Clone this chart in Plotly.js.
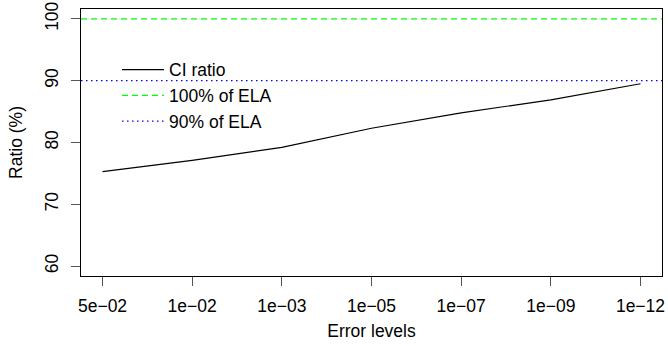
<!DOCTYPE html>
<html>
<head>
<meta charset="utf-8">
<script src="https://cdn.plot.ly/plotly-3.0.1.min.js"></script>
<style>html,body{margin:0;padding:0;background:#fff;} #chart{width:668px;height:346px;}</style>
</head>
<body>
<div id="chart"></div>
<script>
// Data
const errorLabels = ['5e\u221202', '1e\u221202', '1e\u221203', '1e\u221205', '1e\u221207', '1e\u221209', '1e\u221212'];
const positions = [1, 2, 3, 4, 5, 6, 7];
const ciRatio = [75.3, 77.1, 79.2, 82.3, 84.8, 86.9, 89.5];
const refNames = ['100% of ELA', '90% of ELA'];
const refLevels = [100, 90];
const yTicks = [60, 70, 80, 90, 100];

// R-style 4% axis extension
const xPad = (positions[positions.length - 1] - positions[0]) * 0.04;
const xRange = [positions[0] - xPad, positions[positions.length - 1] + xPad];
const yRange = [58.4, 101.6];

const FS = 17.5;
const font = {family: 'Liberation Sans, Arial, sans-serif', size: FS, color: '#000'};

const traces = [
  {x: positions, y: ciRatio, name: 'CI ratio', mode: 'lines', type: 'scatter',
   line: {color: '#000000', width: 1.2}},
  {x: xRange, y: [refLevels[0], refLevels[0]], name: refNames[0], mode: 'lines', type: 'scatter',
   line: {color: '#00ff00', width: 1.2, dash: '6px,4px'}},
  {x: xRange, y: [refLevels[1], refLevels[1]], name: refNames[1], mode: 'lines', type: 'scatter',
   line: {color: '#0000ff', width: 1.2, dash: '1.5px,3.5px'}}
];

const layout = {
  width: 668, height: 346,
  margin: {l: 81, r: 6, t: 9, b: 70, pad: 0},
  paper_bgcolor: '#fff', plot_bgcolor: '#fff',
  font: font,
  showlegend: true,
  legend: {x: 0.062, y: 0.84, xanchor: 'left', yanchor: 'top', bgcolor: 'rgba(0,0,0,0)',
           font: font, tracegroupgap: 0, itemwidth: 42},
  xaxis: {
    range: xRange, tickmode: 'array', tickvals: positions, ticktext: errorLabels,
    showgrid: false, zeroline: false, showline: true, mirror: true, linecolor: '#000', linewidth: 1,
    ticks: 'outside', ticklen: 9, tickcolor: '#555', tickwidth: 1, ticklabelstandoff: 5,
    tickfont: font,
    title: {text: 'Error levels', font: font, standoff: 9},
    automargin: false
  },
  yaxis: {
    range: yRange, tickmode: 'array', tickvals: yTicks, ticktext: yTicks.map(String),
    showgrid: false, zeroline: false, showline: true, mirror: true, linecolor: '#000', linewidth: 1,
    ticks: 'outside', ticklen: 9, tickcolor: '#555', tickwidth: 1, tickangle: -90, ticklabelstandoff: 6,
    tickfont: font,
    title: {text: 'Ratio (%)', font: font, standoff: 14},
    automargin: false
  }
};

Plotly.newPlot('chart', traces, layout, {displayModeBar: false, staticPlot: true});
</script>
</body>
</html>
